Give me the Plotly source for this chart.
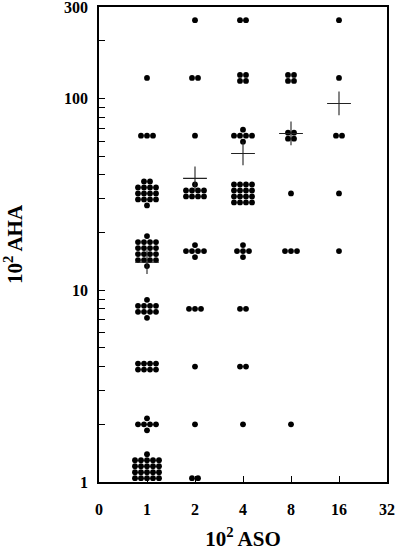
import plotly.graph_objects as go
import math

# ---- data ----
cell_aso = [1, 1, 1, 1, 1, 1, 1, 1,
            2, 2, 2, 2, 2, 2, 2, 2, 2,
            4, 4, 4, 4, 4, 4, 4, 4,
            8, 8, 8, 8, 8,
            16, 16, 16, 16, 16]
cell_aha = [1, 2, 4, 8, 16, 32, 64, 128,
            1, 2, 4, 8, 16, 32, 64, 128, 256,
            2, 4, 8, 16, 32, 64, 128, 256,
            2, 16, 32, 64, 128,
            16, 32, 64, 128, 256]
cell_count = [21, 6, 8, 10, 18, 15, 3, 1,
              2, 1, 1, 3, 6, 9, 1, 2, 1,
              1, 2, 2, 5, 16, 6, 4, 2,
              1, 3, 1, 4, 4,
              1, 1, 2, 1, 1]

mean_aso = [1, 2, 4, 8, 16]
mean_aha = [14.0, 38.3, 51.7, 65.7, 94.2]

x_tickvals = [0.5, 1, 2, 4, 8, 16, 32]
x_ticktext = ["0", "1", "2", "4", "8", "16", "32"]
y_tickvals = [1, 10, 100, 300]
y_ticktext = ["1", "10", "100", "300"]

# ---- layout constants ----
W, H = 400, 551
ML, MR, MT, MB = 99, 13, 7, 69
X_MIN, X_MAX = 0.5, 32
Y_MIN, Y_MAX = 1, 300
PX_PER_OCT = (W - ML - MR) / math.log2(X_MAX / X_MIN)
PX_PER_DEC = (H - MT - MB) / math.log10(Y_MAX / Y_MIN)
S = 6.0  # dot spacing in px
EPS = 1e-6


def cluster_offsets(n, at_floor):
    pts = []
    if n == 1:
        pts = [(0, 0)]
    elif n <= 3:
        pts = [((i - (n - 1) / 2) * S, 0) for i in range(n)]
    elif n == 4:
        pts = [(-S / 2, S / 2), (S / 2, S / 2), (-S / 2, -S / 2), (S / 2, -S / 2)]
    elif n == 5:
        pts = [(-S, 0), (0, 0), (S, 0), (0, S), (0, -S)]
    elif n == 6:
        pts = [((i - 1.5) * S, 0) for i in range(4)] + [(0, S), (0, -S)]
    else:
        cols = 5 if n >= 20 else 4
        rows = n // cols
        r = n % cols
        for j in range(rows):
            for i in range(cols):
                pts.append(((i - (cols - 1) / 2) * S, ((rows - 1) / 2 - j) * S))
        top = (rows - 1) / 2 * S + S
        bot = -(rows - 1) / 2 * S - S
        if at_floor:
            ups, downs = r, 0
        else:
            ups = (r + 1) // 2
            downs = r - ups
        for i in range(ups):
            pts.append(((i - (ups - 1) / 2) * S, top))
        for i in range(downs):
            pts.append(((i - (downs - 1) / 2) * S, bot))
    if at_floor:
        lo = min(p[1] for p in pts)
        pts = [(p[0], p[1] - lo + 3.8) for p in pts]
    return pts


dot_x, dot_y = [], []
for a, h, n in zip(cell_aso, cell_aha, cell_count):
    for dx, dy in cluster_offsets(n, h == Y_MIN):
        dot_x.append(a * 2 ** (dx / PX_PER_OCT))
        dot_y.append(h * 10 ** (dy / PX_PER_DEC))

fig = go.Figure()
fig.add_trace(go.Scatter(
    x=dot_x, y=dot_y, mode="markers",
    marker=dict(symbol="circle", size=5.8, color="black", line=dict(width=0)),
    showlegend=False, hoverinfo="skip"))
fig.add_trace(go.Scatter(
    x=mean_aso, y=mean_aha, mode="markers",
    marker=dict(symbol="cross-thin", size=17, color="#222",
                line=dict(width=1.1, color="#222")),
    showlegend=False, hoverinfo="skip"))

y_minor = [dec * m for dec in [1, 10, 100] for m in range(2, 10) if dec * m < Y_MAX]

font_family = "Liberation Serif"
fig.update_layout(
    width=W, height=H,
    margin=dict(l=ML, r=MR, t=MT, b=MB, autoexpand=False),
    paper_bgcolor="white", plot_bgcolor="white",
    font=dict(family=font_family, color="black"),
    xaxis=dict(
        type="log", range=[math.log10(X_MIN) - EPS, math.log10(X_MAX) + EPS],
        tickvals=x_tickvals, ticktext=x_ticktext,
        ticks="inside", ticklen=6, tickwidth=1, tickcolor="black",
        showline=True, linecolor="black", linewidth=1.5, mirror=True,
        showgrid=False, zeroline=False, automargin=False,
        ticklabeloverflow="allow",
        tickfont=dict(family=font_family, size=16, weight="bold"),
        ticklabelstandoff=12,
        title=dict(text="10<sup>2</sup> ASO", standoff=18,
                   font=dict(family=font_family, size=21, weight="bold")),
    ),
    yaxis=dict(
        type="log", range=[0 - EPS, math.log10(Y_MAX) + EPS],
        tickvals=y_tickvals, ticktext=y_ticktext,
        ticks="inside", ticklen=6, tickwidth=1, tickcolor="black",
        minor=dict(tickvals=y_minor, ticks="inside", ticklen=6, tickwidth=1,
                   tickcolor="black", showgrid=False),
        showline=True, linecolor="black", linewidth=1.5, mirror=True,
        showgrid=False, zeroline=False, automargin=False,
        ticklabeloverflow="allow",
        tickfont=dict(family=font_family, size=16, weight="bold"),
        ticklabelstandoff=6,
        title=dict(text="10<sup>2</sup> AHA", standoff=36,
                   font=dict(family=font_family, size=21, weight="bold")),
    ),
)

fig.write_html("out.html", config={"displayModeBar": False},
               post_script="document.body.style.margin='0';")
